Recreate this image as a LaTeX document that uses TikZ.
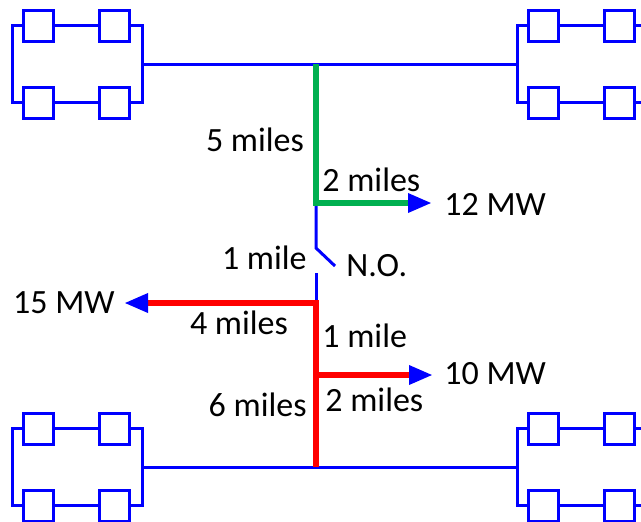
\documentclass[tikz,border=0pt]{standalone}
\usepackage{fontspec}
\setmainfont{Carlito}
\usetikzlibrary{arrows.meta}

\definecolor{busblue}{RGB}{0,0,255}
\definecolor{fdgreen}{RGB}{0,176,80}
\definecolor{fdred}{RGB}{255,0,0}

\tikzset{
  bus/.style={draw=busblue, line width=1.5pt},
  breaker/.style={draw=busblue, line width=1.5pt, minimum width=15pt,
    minimum height=15.5pt, inner sep=0pt},
  feeder/.style={line width=3pt},
  load/.style={-{Triangle[length=12pt,width=9pt,color=busblue]}},
  lbl/.style={font=\fontsize{17}{20}\selectfont, inner sep=0pt},
}

\begin{document}
\begin{tikzpicture}[%
      x=0.5pt, y=-0.5pt,
      ]
      \clip (0,0) rectangle (641,521);

      % substations
      \foreach \n/\x/\y in {tl/12/25.5, tr/517/25.5, bl/12/428.5, br/517/428.5}{
        \node[breaker] (\n-1) at (\x+26.5,\y) {};
        \node[breaker] (\n-2) at (\x+102.5,\y) {};
        \node[breaker] (\n-3) at (\x+26.5,\y+77) {};
        \node[breaker] (\n-4) at (\x+102.5,\y+77) {};
        \coordinate (\n-w) at (\x,\y+38.5);
        \coordinate (\n-e) at (\x+130,\y+38.5);
        \draw[bus] (\n-1) -- (\n-2) (\n-3) -- (\n-4);
        \draw[bus] (\n-1.west) -| (\n-w) |- (\n-3.west);
        \draw[bus] (\n-2.east) -| (\n-e) |- (\n-4.east);
      }

      \coordinate (top) at (316,64);
      \coordinate (gjoin) at (316,203);
      \coordinate (swa) at (316,248);
      \coordinate (swb) at (335,266);
      \coordinate (swc) at (316,273);
      \coordinate (rjoin) at (316,303);
      \coordinate (rmid) at (316,375);
      \coordinate (bot) at (316,467);
      \coordinate (load12) at (432,203);
      \coordinate (load15) at (124,303);
      \coordinate (load10) at (433,375);

      \draw[bus] (tl-e) -- (tr-w);
      \draw[bus] (bl-e) -- (br-w);

      % normally open switch
      \draw[bus] (gjoin) -- (swa) -- (swb);
      \draw[bus] (swc) -- (rjoin);

      \draw[feeder, fdgreen, load] (top) -- (gjoin) -- (load12);
      \draw[feeder, fdred, load] (bot) -- (rjoin) -- (load15);
      \draw[feeder, fdred, load] (rmid) -- (load10);

      \node[lbl] (d5) at (255,140) {5 miles};
      \node[lbl, anchor=west] (d2a) at (322,180) {2 miles};
      \node[lbl, anchor=west] (p12) at (444,204) {12 MW};
      \node[lbl, anchor=east] (d1a) at (307,258) {1 mile};
      \node[lbl, anchor=west] (no) at (346,266) {N.O.};
      \node[lbl, anchor=east] (p15) at (115,303) {15 MW};
      \node[lbl] (d4) at (239,323) {4 miles};
      \node[lbl, anchor=west] (d1b) at (322,336) {1 mile};
      \node[lbl, anchor=west] (p10) at (444,374) {10 MW};
      \node[lbl, anchor=east] (d6) at (307,405) {6 miles};
      \node[lbl, anchor=west] (d2b) at (325,400) {2 miles};
\end{tikzpicture}
\end{document}
